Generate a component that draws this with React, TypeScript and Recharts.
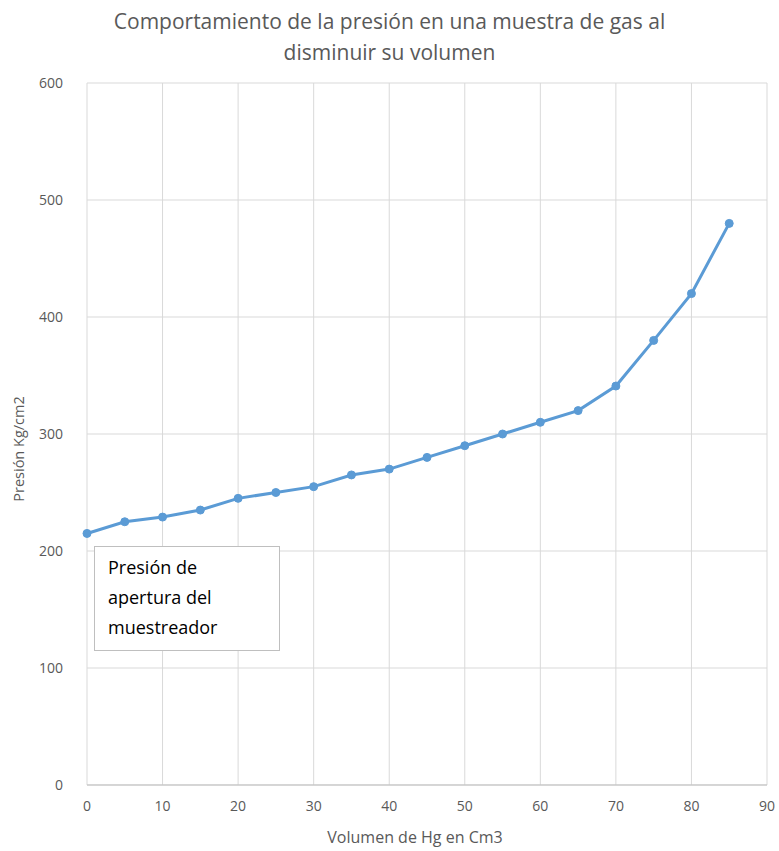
import { LineChart, Line, XAxis, YAxis, CartesianGrid } from "recharts";

// Volumen de Hg inyectado (cm3) y presión leída (kg/cm2)
const volumen = [0, 5, 10, 15, 20, 25, 30, 35, 40, 45, 50, 55, 60, 65, 70, 75, 80, 85];
const presion = [215, 225, 229, 235, 245, 250, 255, 265, 270, 280, 290, 300, 310, 320, 341, 380, 420, 480];

const xTicks = [0, 10, 20, 30, 40, 50, 60, 70, 80, 90];
const yTicks = [0, 100, 200, 300, 400, 500, 600];

const data = volumen.map((v, i) => ({ volumen: v, presion: presion[i] }));

const FONT = "'Open Sans', sans-serif";
const GREY = "#595959";

// rotated axis title, nudged a bit below the plot's middle
const YTitle = () => (
  <text
    x={0}
    y={0}
    transform="translate(18 449) rotate(-90)"
    textAnchor="middle"
    dominantBaseline="central"
    fill={GREY}
    fontSize={14.5}
    fontFamily={FONT}
  >
    Presión Kg/cm2
  </text>
);

export default function App() {
  return (
    <div
      style={{
        position: "absolute",
        left: 0,
        top: 0,
        width: 779,
        height: 851,
        background: "#fff",
        fontFamily: FONT,
      }}
    >
      <div
        style={{
          position: "absolute",
          left: 0,
          top: 6,
          width: 779,
          textAlign: "center",
          color: GREY,
          fontSize: 21,
          lineHeight: "31px",
        }}
      >
        Comportamiento de la presión en una muestra de gas al
        <br />
        disminuir su volumen
      </div>

      <LineChart
        width={779}
        height={851}
        data={data}
        margin={{ top: 83, right: 12, bottom: 0, left: 0 }}
      >
        <CartesianGrid stroke="#d9d9d9" strokeWidth={1} />
        <XAxis
          dataKey="volumen"
          type="number"
          domain={[0, 90]}
          ticks={xTicks}
          height={66}
          tickLine={false}
          axisLine={{ stroke: "#bfbfbf" }}
          tick={{ fill: GREY, fontSize: 14, fontFamily: FONT }}
          tickMargin={10}
          label={{
            value: "Volumen de Hg en Cm3",
            position: "insideBottom",
            offset: 8,
            dx: -12,
            fill: GREY,
            fontSize: 16,
            fontFamily: FONT,
          }}
        />
        <YAxis
          type="number"
          domain={[0, 600]}
          ticks={yTicks}
          width={87}
          tickLine={false}
          axisLine={false}
          tick={{ fill: GREY, fontSize: 14, fontFamily: FONT }}
          tickMargin={18}
          label={<YTitle />}
        />
        <Line
          dataKey="presion"
          stroke="#5b9bd5"
          strokeWidth={3}
          dot={{ r: 4, fill: "#5b9bd5", stroke: "#5b9bd5", strokeWidth: 1 }}
          isAnimationActive={false}
        />
      </LineChart>

      <div
        style={{
          position: "absolute",
          left: 94,
          top: 546,
          width: 186,
          height: 105,
          boxSizing: "border-box",
          border: "1px solid #bfbfbf",
          background: "#fff",
          padding: "5px 0 0 13px",
          color: "#000",
          fontSize: 18,
          lineHeight: "30px",
        }}
      >
        Presión de
        <br />
        apertura del
        <br />
        muestreador
      </div>
    </div>
  );
}
